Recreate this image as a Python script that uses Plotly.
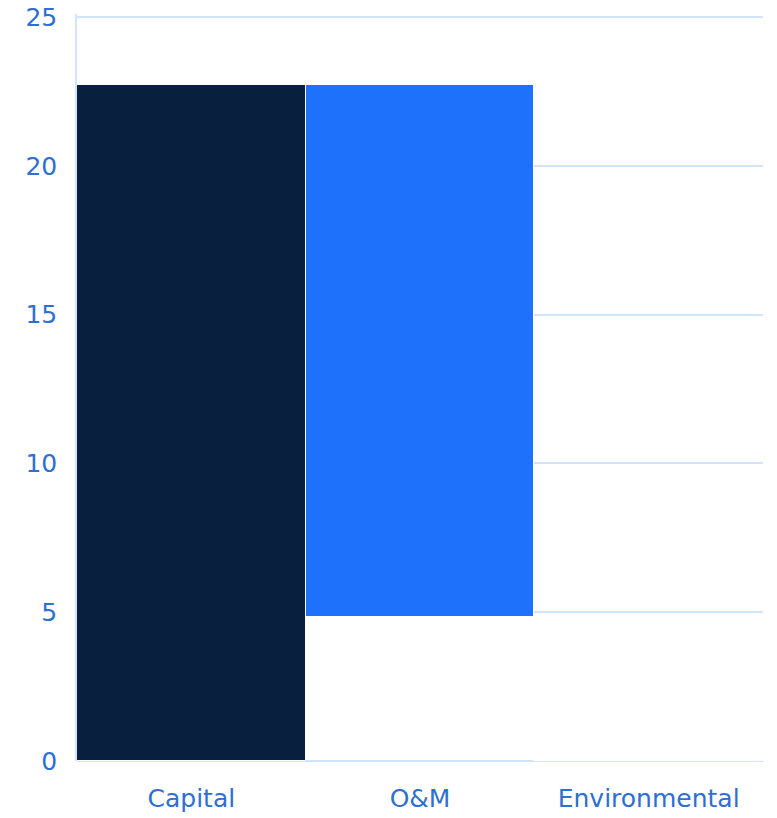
import plotly.graph_objects as go

categories = ["Capital", "O&M", "Environmental"]
bar_bottom = [0, 4.84, 0]
bar_top = [22.7, 22.7, 0]
bar_colors = ["#081f3e", "#1e71fb", "#1e71fb"]
y_ticks = [0, 5, 10, 15, 20, 25]

heights = [t - b for t, b in zip(bar_top, bar_bottom)]

fig = go.Figure(go.Bar(
    x=categories, y=heights, base=bar_bottom,
    marker=dict(color=bar_colors, line=dict(color="white", width=1)),
    hoverinfo="skip",
))

font_color = "#2d6fd2"
font_family = "DejaVu Sans"
fig.update_layout(
    width=777, height=818,
    margin=dict(l=77, r=14, t=14, b=57, autoexpand=False),
    paper_bgcolor="white", plot_bgcolor="white",
    bargap=0, showlegend=False,
    font=dict(family=font_family, size=25, color=font_color),
)
fig.update_xaxes(
    showgrid=False, showline=False, zeroline=False, automargin=False,
    ticks="", ticklabelstandoff=20,
    tickfont=dict(family=font_family, size=25, color=font_color),
)
fig.update_yaxes(
    range=[0, 25.1], tickvals=y_ticks, automargin=False,
    showgrid=True, gridcolor="#d2e4fb", gridwidth=1.5,
    zeroline=True, zerolinecolor="#d2e4fb", zerolinewidth=1.5,
    showline=True, linecolor="#d2e4fb", linewidth=1.5,
    ticks="", ticklabelstandoff=13,
    tickfont=dict(family=font_family, size=25, color=font_color),
)

fig.write_html(
    "out.html",
    config={"displayModeBar": False},
    post_script="document.body.style.margin='0';",
)
